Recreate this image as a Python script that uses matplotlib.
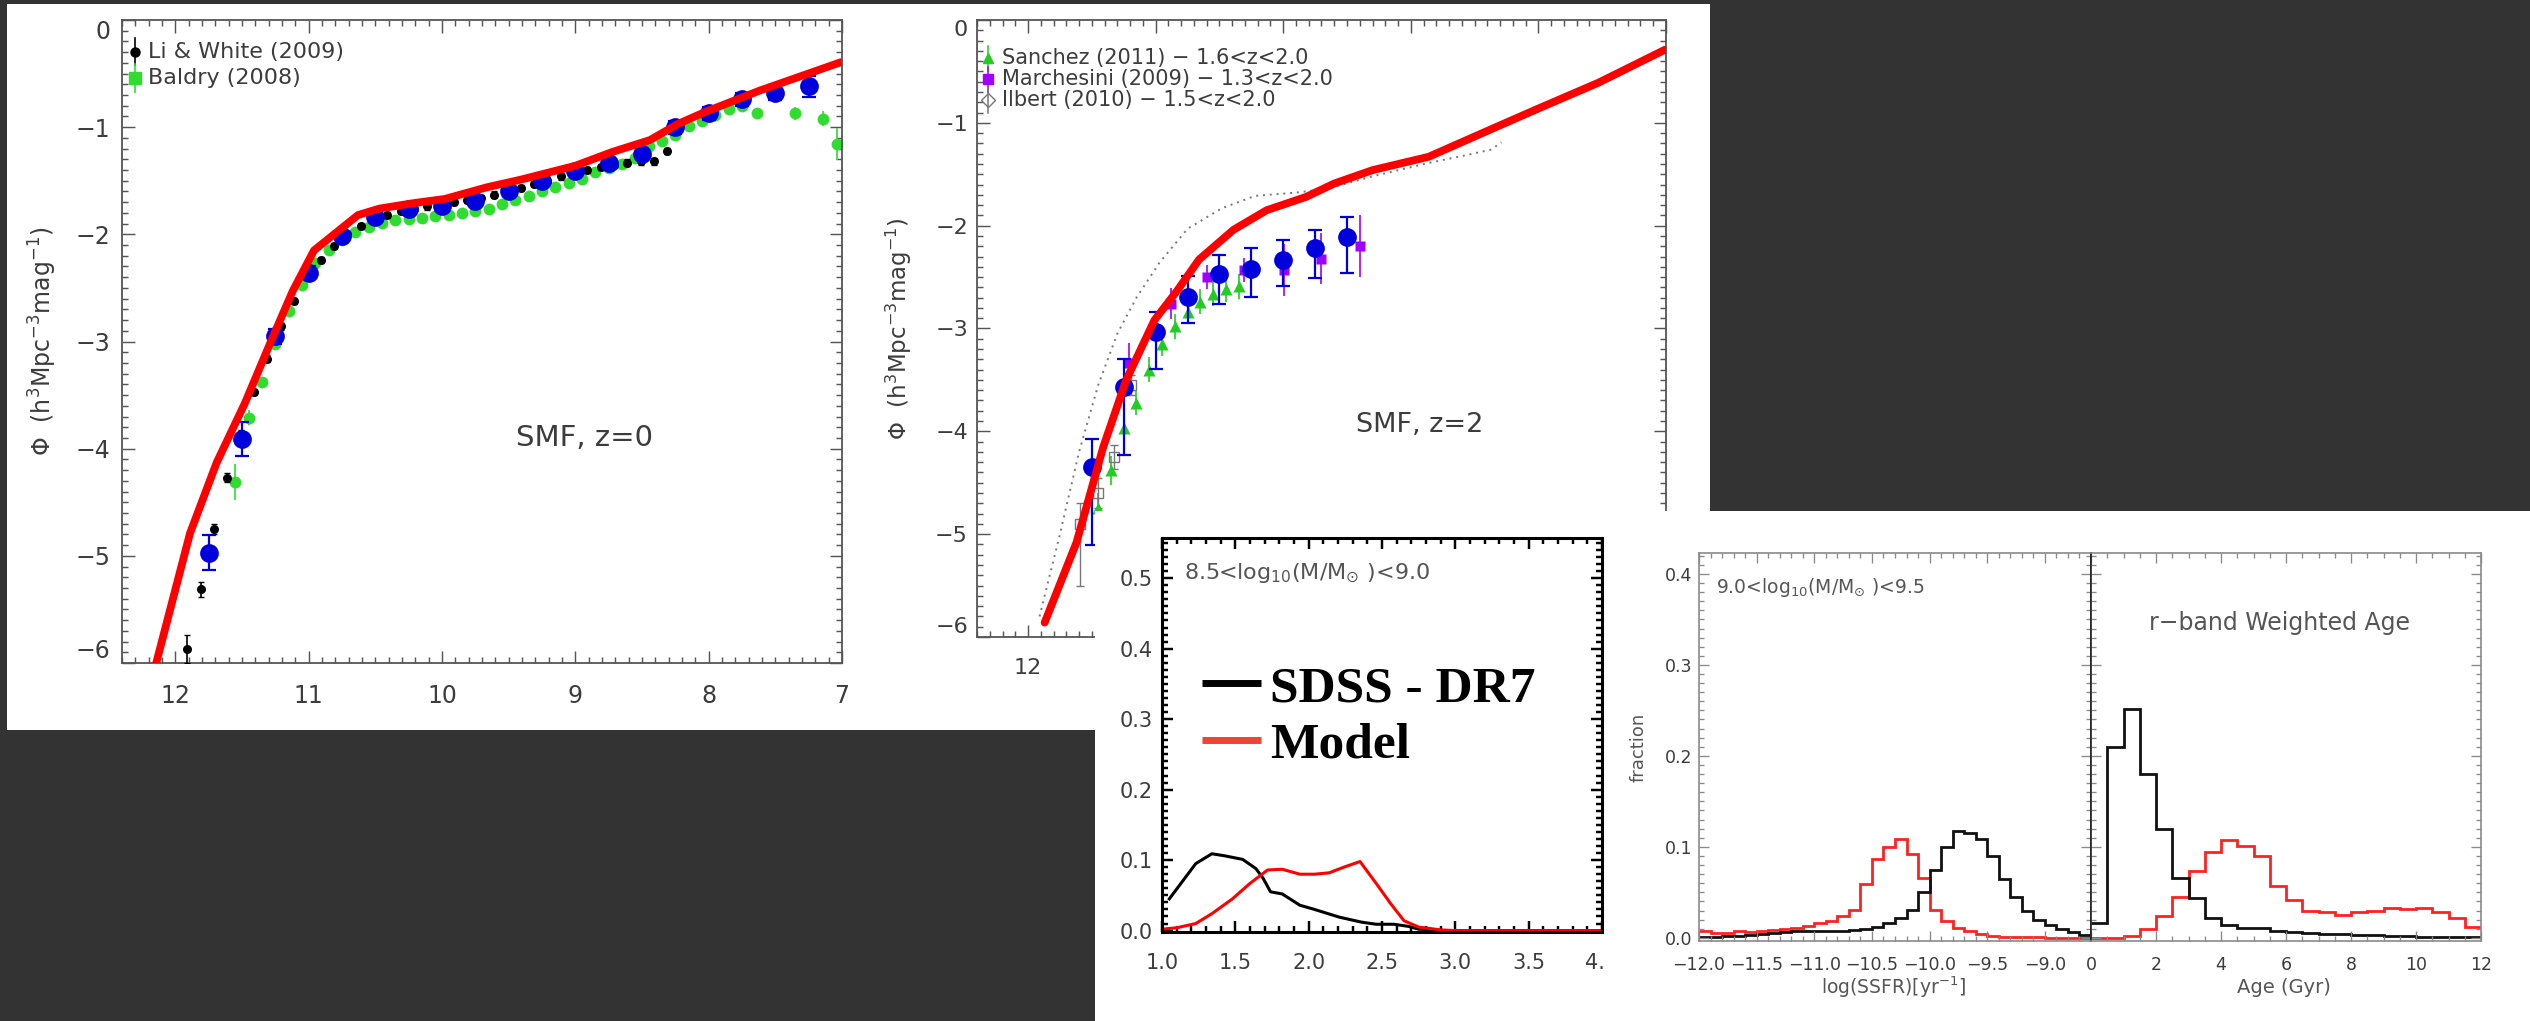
import numpy as np
import matplotlib
matplotlib.use('Agg')
import matplotlib.pyplot as plt
from matplotlib.patches import Rectangle
from matplotlib.ticker import MultipleLocator, FuncFormatter

W, H = 2530, 1021
plt.rcParams['font.family'] = ['DejaVu Sans']
plt.rcParams['mathtext.fontset'] = 'dejavusans'

# ---------------- SMF z=0 ----------------
z0_model_mass = [12.16, 11.89, 11.69, 11.48, 11.28, 11.12, 10.96, 10.79, 10.63, 10.47, 10.22,
                 9.98, 9.66, 9.41, 9.00, 8.72, 8.44, 8.23, 8.03, 7.62, 7.00]
z0_model_phi = [-6.08, -4.79, -4.13, -3.58, -2.99, -2.53, -2.15, -1.98, -1.82, -1.76, -1.71,
                -1.67, -1.56, -1.49, -1.36, -1.23, -1.12, -0.97, -0.86, -0.66, -0.39]

z0_sim_mass = [11.75, 11.5, 11.25, 11.0, 10.75, 10.5, 10.25, 10.0, 9.75, 9.5, 9.25, 9.0,
               8.75, 8.5, 8.25, 8.0, 7.75, 7.5, 7.25]
z0_sim_phi = [-4.97, -3.91, -2.95, -2.36, -2.02, -1.84, -1.76, -1.74, -1.69, -1.60, -1.50,
              -1.41, -1.33, -1.25, -1.00, -0.87, -0.74, -0.68, -0.62]
z0_sim_err = [0.16, 0.16, 0.07, 0.06, 0.05, 0.04, 0.04, 0.04, 0.04, 0.04, 0.04, 0.04,
              0.04, 0.05, 0.06, 0.06, 0.06, 0.07, 0.10]

lw09_mass = [11.91, 11.81, 11.71, 11.61, 11.51, 11.41, 11.31, 11.21, 11.11, 11.01,
             10.91, 10.81, 10.71, 10.61, 10.51, 10.41, 10.31, 10.21, 10.11, 10.01,
             9.91, 9.81, 9.71, 9.61, 9.51, 9.41, 9.31, 9.21, 9.11, 9.01,
             8.91, 8.81, 8.71, 8.61, 8.51, 8.41, 8.31]
lw09_phi = [-5.87, -5.31, -4.75, -4.27, -3.86, -3.47, -3.16, -2.86, -2.62, -2.40,
            -2.24, -2.11, -2.00, -1.92, -1.86, -1.82, -1.78, -1.76, -1.74, -1.72,
            -1.70, -1.68, -1.66, -1.63, -1.60, -1.57, -1.53, -1.50, -1.46, -1.43,
            -1.40, -1.37, -1.35, -1.33, -1.32, -1.32, -1.22]
lw09_err = [0.13, 0.07, 0.05, 0.04] + [0.03] * 33

bal08_mass = [11.55, 11.45, 11.35, 11.25, 11.15, 11.05, 10.95, 10.85, 10.75, 10.65,
              10.55, 10.45, 10.35, 10.25, 10.15, 10.05, 9.95, 9.85, 9.75, 9.65,
              9.55, 9.45, 9.35, 9.25, 9.15, 9.05, 8.95, 8.85, 8.75, 8.65,
              8.55, 8.45, 8.35, 8.25, 8.15, 8.05, 7.95, 7.85, 7.75, 7.64,
              7.35, 7.14, 7.04]
bal08_phi = [-4.31, -3.71, -3.38, -3.02, -2.72, -2.47, -2.27, -2.15, -2.05, -1.98,
             -1.93, -1.89, -1.87, -1.86, -1.85, -1.83, -1.82, -1.80, -1.78, -1.76,
             -1.72, -1.68, -1.64, -1.60, -1.56, -1.52, -1.48, -1.42, -1.38, -1.34,
             -1.29, -1.18, -1.13, -1.07, -0.99, -0.94, -0.89, -0.83, -0.80, -0.87,
             -0.87, -0.92, -1.16]
bal08_err = [0.17, 0.07] + [0.03] * 37 + [0.04, 0.06, 0.07, 0.15]

# ---------------- SMF z=2 ----------------
z2_model_mass = [11.87, 11.62, 11.41, 11.23, 11.01, 10.83, 10.66, 10.39, 10.13, 9.82,
                 9.60, 9.30, 8.86, 8.33, 7.98, 7.53, 7.01]
z2_model_phi = [-5.86, -5.08, -4.15, -3.50, -2.92, -2.63, -2.33, -2.04, -1.85, -1.72,
                -1.59, -1.46, -1.33, -1.04, -0.85, -0.61, -0.29]

z2_alt_mass = [11.91, 11.75, 11.60, 11.45, 11.30, 11.15, 10.97, 10.75, 10.48, 10.22,
               9.91, 9.65, 9.30, 8.86, 8.55, 8.37, 8.29]
z2_alt_phi = [-5.80, -5.00, -4.20, -3.55, -3.05, -2.70, -2.36, -2.03, -1.83, -1.71,
              -1.68, -1.64, -1.52, -1.39, -1.31, -1.26, -1.19]

z2_sim_mass = [11.5, 11.25, 11.0, 10.75, 10.5, 10.25, 10.0, 9.75, 9.5]
z2_sim_phi = [-4.35, -3.57, -3.03, -2.69, -2.47, -2.42, -2.33, -2.22, -2.11]
z2_sim_up = [0.28, 0.27, 0.19, 0.20, 0.18, 0.20, 0.19, 0.18, 0.19]
z2_sim_lo = [0.76, 0.66, 0.36, 0.26, 0.29, 0.27, 0.26, 0.29, 0.35]

san11_mass = [11.45, 11.35, 11.25, 11.15, 11.05, 10.95, 10.85, 10.75, 10.65, 10.55, 10.45, 10.35]
san11_phi = [-4.75, -4.38, -3.97, -3.72, -3.40, -3.15, -2.98, -2.84, -2.74, -2.66, -2.62, -2.59]
san11_err = [0.15, 0.14, 0.13, 0.12, 0.12, 0.12, 0.12, 0.12, 0.12, 0.12, 0.12, 0.12]

mar09_mass = [11.21, 10.88, 10.60, 10.31, 9.99, 9.70, 9.40]
mar09_phi = [-3.34, -2.76, -2.50, -2.43, -2.43, -2.32, -2.20]
mar09_err = [0.20, 0.15, 0.12, 0.12, 0.25, 0.25, 0.30]

ilb10_mass = [11.59, 11.45, 11.33, 11.19]
ilb10_phi = [-4.90, -4.60, -4.25, -3.55]
ilb10_up = [0.20, 0.15, 0.12, 0.10]
ilb10_lo = [0.60, 0.15, 0.12, 0.10]

# ---------------- 8.5 < log M < 9.0 distribution ----------------
dist_sdss_x = [1.05, 1.23, 1.34, 1.43, 1.55, 1.64, 1.69, 1.74, 1.82, 1.94, 2.04, 2.21,
               2.36, 2.46, 2.58, 2.68, 2.75, 2.90, 3.5, 4.0]
dist_sdss_y = [0.045, 0.095, 0.109, 0.106, 0.101, 0.088, 0.074, 0.055, 0.052, 0.036, 0.030,
               0.019, 0.012, 0.009, 0.009, 0.006, 0.002, 0.0, 0.0, 0.0]
dist_model_x = [1.0, 1.1, 1.23, 1.34, 1.48, 1.60, 1.72, 1.82, 1.94, 2.04, 2.14, 2.24, 2.35,
                2.46, 2.56, 2.65, 2.75, 2.90, 3.0, 3.5, 4.0]
dist_model_y = [0.002, 0.004, 0.010, 0.024, 0.045, 0.067, 0.086, 0.087, 0.080, 0.080, 0.082,
                0.090, 0.098, 0.067, 0.038, 0.014, 0.005, 0.001, 0.0, 0.0, 0.0]

# ---------------- 9.0 < log M < 9.5 histograms ----------------
ssfr_edges = np.round(np.arange(-12.0, -8.55, 0.1), 1)
ssfr_sdss = [0.001, 0.001, 0.002, 0.002, 0.003, 0.004, 0.005, 0.006, 0.007, 0.007,
             0.008, 0.008, 0.008, 0.009, 0.010, 0.012, 0.016, 0.022, 0.031, 0.050,
             0.075, 0.100, 0.117, 0.115, 0.109, 0.090, 0.065, 0.045, 0.030, 0.020,
             0.014, 0.010, 0.006, 0.003]
ssfr_model = [0.007, 0.005, 0.005, 0.008, 0.006, 0.008, 0.009, 0.010, 0.011, 0.013,
              0.016, 0.019, 0.024, 0.031, 0.059, 0.087, 0.100, 0.109, 0.092, 0.066,
              0.031, 0.018, 0.011, 0.007, 0.004, 0.002, 0.001, 0.001, 0.0005, 0.0005,
              0.0, 0.0, 0.0, 0.0]

age_edges = np.arange(0.0, 12.01, 0.5)
age_sdss = [0.016, 0.210, 0.252, 0.180, 0.120, 0.066, 0.044, 0.022, 0.014, 0.011, 0.011, 0.008,
            0.006, 0.005, 0.004, 0.004, 0.003, 0.003, 0.002, 0.002, 0.001, 0.001, 0.001, 0.001]
age_model = [0.000, 0.000, 0.002, 0.010, 0.024, 0.045, 0.073, 0.094, 0.108, 0.101, 0.090, 0.057,
             0.042, 0.030, 0.028, 0.025, 0.028, 0.029, 0.033, 0.032, 0.033, 0.028, 0.022, 0.012]

TXT = '#3c3c3c'

fig = plt.figure(figsize=(W / 100, H / 100), dpi=100, facecolor='#333333')


def box(l, r, t, b):
    return [l / W, 1 - b / H, (r - l) / W, (b - t) / H]


def white(l, r, t, b, z):
    fig.add_artist(Rectangle((l / W, 1 - b / H), (r - l) / W, (b - t) / H,
                             transform=fig.transFigure, facecolor='white',
                             edgecolor='none', zorder=z))


def style(ax, color, lw, major, minor, size, xpad, ypad):
    for s in ax.spines.values():
        s.set_color(color)
        s.set_linewidth(lw)
    ax.tick_params(which='both', direction='in', top=True, right=True,
                   color=color, width=lw * 0.8)
    ax.tick_params(which='major', length=major, labelsize=size, labelcolor=TXT)
    ax.tick_params(which='minor', length=minor)
    ax.tick_params(axis='x', pad=xpad)
    ax.tick_params(axis='y', pad=ypad)


def minus(fmt):
    return FuncFormatter(lambda v, p: fmt.format(v).replace('-', '\u2212'))


def smf_axes(ax, size, ypad):
    ax.set_xlim(12.4, 7.0)
    ax.set_ylim(-6, 0)
    ax.set_xticks([12, 11, 10, 9, 8, 7])
    ax.set_yticks([-6, -5, -4, -3, -2, -1, 0])
    ax.xaxis.set_minor_locator(MultipleLocator(0.1))
    ax.yaxis.set_minor_locator(MultipleLocator(0.1))
    ax.xaxis.set_major_formatter(minus('{:.0f}'))
    ax.yaxis.set_major_formatter(minus('{:.0f}'))
    style(ax, '#555555', 1.3, 9, 4, size, 15, ypad)
    labs = ax.get_yticklabels()
    labs[0].set_va('bottom')
    labs[-1].set_va('top')
    ax.set_facecolor('white')


ylab = r'$\Phi$  (h$^3$Mpc$^{-3}$mag$^{-1}$)'

# white backgrounds
white(7, 1710, 4, 730, 0.5)
white(1095, W, 511, H, 2)

# ---- panel 1: SMF z=0 ----
ax1 = fig.add_axes(box(122, 842, 20, 663))
ax1.set_zorder(1)
smf_axes(ax1, 17, 8.5)
ax1.errorbar(bal08_mass, bal08_phi, yerr=bal08_err, fmt='o', ms=8.5, color='#2fdc2f',
             mec='none', elinewidth=1.2, capsize=0, zorder=2)
ax1.errorbar(lw09_mass, lw09_phi, yerr=lw09_err, fmt='o', ms=6.5, color='black',
             mec='none', elinewidth=1.2, capsize=2, zorder=3)
ax1.errorbar(z0_sim_mass, z0_sim_phi, yerr=z0_sim_err, fmt='o', ms=13.5, color='#0000dd',
             mec='none', elinewidth=1.6, capsize=5, capthick=1.6, zorder=4)
ax1.plot(z0_model_mass, z0_model_phi, color='#ff0000', lw=5.6, solid_capstyle='butt', zorder=5)
ax1.text(8.93, -3.9, 'SMF, z=0', fontsize=21, color=TXT, ha='center', va='center')
ax1.text(-0.11, 0.5, ylab, transform=ax1.transAxes, rotation=90, fontsize=17,
         color=TXT, ha='center', va='center')

# legend marks
ax1.plot([0.018, 0.018], [0.930, 0.972], color='black', lw=1.2, transform=ax1.transAxes)
ax1.plot([0.018], [0.950], 'o', color='black', ms=6.5, transform=ax1.transAxes)
ax1.plot([0.018, 0.018], [0.888, 0.932], color='#2fdc2f', lw=1.2, transform=ax1.transAxes)
ax1.plot([0.018], [0.910], 's', color='#2fdc2f', ms=8, transform=ax1.transAxes)
ax1.text(0.036, 0.950, 'Li & White (2009)', transform=ax1.transAxes, fontsize=16,
         color=TXT, va='center')
ax1.text(0.036, 0.910, 'Baldry (2008)', transform=ax1.transAxes, fontsize=16,
         color=TXT, va='center')

# ---- panel 2: SMF z=2 ----
ax2 = fig.add_axes(box(977, 1666, 20, 637))
ax2.set_zorder(1)
smf_axes(ax2, 16, 6.5)
# only the 12 label stays uncovered by the distribution panel
ax2.xaxis.set_major_formatter(FuncFormatter(lambda v, p: '12' if abs(v - 12) < 0.01 else ''))
ax2.plot(z2_alt_mass, z2_alt_phi, color='#777777', lw=1.4, ls=(0, (1, 2.5)), zorder=2)
ax2.errorbar(san11_mass, san11_phi, yerr=san11_err, fmt='^', ms=8, color='#22cc22',
             mec='none', elinewidth=1.2, capsize=0, zorder=3)
ax2.errorbar(ilb10_mass, ilb10_phi, yerr=[ilb10_lo, ilb10_up], fmt='s', ms=7, color='#777777',
             mfc='none', mew=1.0, elinewidth=1.0, capsize=3, zorder=3)
ax2.errorbar(mar09_mass, mar09_phi, yerr=mar09_err, fmt='s', ms=7, color='#a000ff',
             mec='none', elinewidth=1.2, capsize=0, zorder=3)
ax2.errorbar(z2_sim_mass, z2_sim_phi, yerr=[z2_sim_lo, z2_sim_up], fmt='o', ms=13.5,
             color='#0000dd', mec='none', elinewidth=1.6, capsize=5, capthick=1.6, zorder=4)
ax2.plot(z2_model_mass, z2_model_phi, color='#ff0000', lw=5.6, solid_capstyle='round', zorder=5)
ax2.text(8.93, -3.94, 'SMF, z=2', fontsize=19.5, color=TXT, ha='center', va='center')
ax2.text(-0.113, 0.5, ylab, transform=ax2.transAxes, rotation=90, fontsize=16.5,
         color=TXT, ha='center', va='center')

leg2 = [('^', '#22cc22', 'Sanchez (2011) \u2212 1.6<z<2.0', 0.938, True),
        ('s', '#a000ff', 'Marchesini (2009) \u2212 1.3<z<2.0', 0.904, True),
        ('D', '#777777', 'Ilbert (2010) \u2212 1.5<z<2.0', 0.870, False)]
for mk, col, name, yy, filled in leg2:
    ax2.plot([0.016, 0.016], [yy - 0.02, yy + 0.02], color=col, lw=1.1, transform=ax2.transAxes)
    ax2.plot([0.016], [yy], mk, color=col, ms=7, mfc=col if filled else 'none',
             transform=ax2.transAxes)
    ax2.text(0.036, yy, name, transform=ax2.transAxes, fontsize=15, color=TXT, va='center')

# ---- panel 3: distribution with big legend ----
ax3 = fig.add_axes(box(1162, 1602, 538, 932))
ax3.set_zorder(3)
ax3.set_xlim(1.0, 4.0)
ax3.set_ylim(-0.002, 0.557)
ax3.set_xticks([1.0, 1.5, 2.0, 2.5, 3.0, 3.5, 4.0])
ax3.set_yticks([0.0, 0.1, 0.2, 0.3, 0.4, 0.5])
ax3.xaxis.set_minor_locator(MultipleLocator(0.1))
ax3.yaxis.set_minor_locator(MultipleLocator(0.01))
ax3.xaxis.set_major_formatter(minus('{:.1f}'))
ax3.yaxis.set_major_formatter(minus('{:.1f}'))
style(ax3, 'black', 2.2, 8, 4, 15, 15, 6.5)
ax3.plot(dist_sdss_x, dist_sdss_y, color='black', lw=2.2)
ax3.plot(dist_model_x, dist_model_y, color='#ff0000', lw=2.2)
ax3.text(0.05, 0.91, r'8.5<log$_{10}$(M/M$_{\odot}$ )<9.0', transform=ax3.transAxes,
         fontsize=16, color='#555555', va='center')
ax3.plot([0.091, 0.225], [0.632, 0.632], color='black', lw=5, solid_capstyle='butt',
         transform=ax3.transAxes)
ax3.plot([0.091, 0.225], [0.487, 0.487], color='#ee4433', lw=5, solid_capstyle='butt',
         transform=ax3.transAxes)
for yy, name in [(0.584, 'SDSS - DR7'), (0.442, 'Model')]:
    ax3.text(0.245, yy, name, transform=ax3.transAxes, fontsize=37, fontweight='bold',
             family=['Liberation Serif', 'DejaVu Serif'], color='black', va='baseline')

# trims the last tick label at the frame edge
white(1605, 1645, 935, 990, 3.5)

# ---- panel 4: sSFR and age histograms ----
ax4a = fig.add_axes(box(1699, 2091, 553, 941))
ax4b = fig.add_axes(box(2091, 2481, 553, 941))
for ax in (ax4a, ax4b):
    ax.set_zorder(4)
    ax.set_ylim(-0.0035, 0.423)
    ax.set_yticks([0.0, 0.1, 0.2, 0.3, 0.4])
    ax.yaxis.set_minor_locator(MultipleLocator(0.01))
    ax.yaxis.set_major_formatter(minus('{:.1f}'))
    style(ax, '#8a8a8a', 1.2, 7, 3.5, 12.5, 11, 5)
ax4a.spines['right'].set_color('#222222')
ax4b.spines['left'].set_color('#222222')
ax4b.tick_params(labelleft=False)

ax4a.set_xlim(-12.0, -8.6)
ax4a.set_xticks([-12.0, -11.5, -11.0, -10.5, -10.0, -9.5, -9.0])
ax4a.xaxis.set_minor_locator(MultipleLocator(0.1))
ax4a.xaxis.set_major_formatter(minus('{:.1f}'))
ax4a.stairs(ssfr_model, ssfr_edges, baseline=None, color='#ff2020', lw=2.0)
ax4a.stairs(ssfr_sdss, ssfr_edges, baseline=None, color='#111111', lw=2.0)

ax4b.set_xlim(0, 12)
ax4b.set_xticks([0, 2, 4, 6, 8, 10, 12])
ax4b.xaxis.set_minor_locator(MultipleLocator(0.5))
ax4b.xaxis.set_major_formatter(minus('{:.0f}'))
ax4b.stairs(age_model, age_edges, baseline=None, color='#ff2020', lw=2.0)
ax4b.stairs(age_sdss, age_edges, baseline=None, color='#111111', lw=2.0)

ax4a.text(0.043, 0.912, r'9.0<log$_{10}$(M/M$_{\odot}$ )<9.5', transform=ax4a.transAxes,
          fontsize=13.5, color='#555555', va='center')
ax4b.text(0.149, 0.820, 'r\u2212band Weighted Age', transform=ax4b.transAxes,
          fontsize=17, color='#555555', va='center')
ax4a.text(0.497, -0.119, r'log(SSFR)[yr$^{-1}$]', transform=ax4a.transAxes,
          fontsize=13.5, color='#555555', ha='center', va='center')
ax4b.text(0.495, -0.119, 'Age (Gyr)', transform=ax4b.transAxes,
          fontsize=14, color='#555555', ha='center', va='center')
fig.text(1639 / W, 1 - 747 / H, 'fraction', rotation=90, fontsize=13, color='#555555',
         ha='center', va='center', zorder=5)

fig.savefig('out.png', dpi=100, facecolor=fig.get_facecolor())
